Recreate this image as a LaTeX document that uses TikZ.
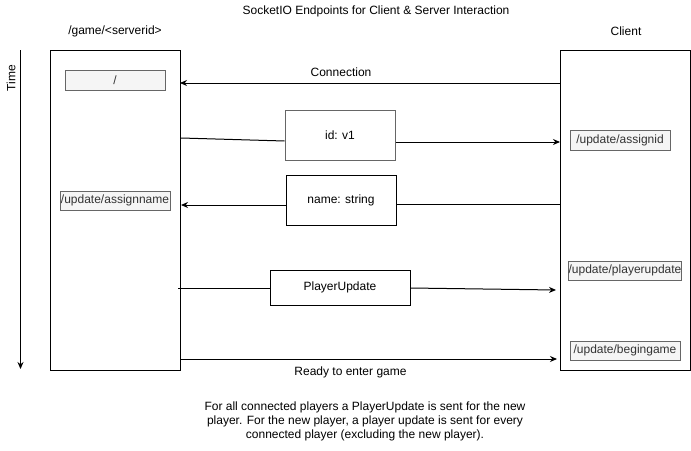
\documentclass[tikz,border=0pt]{standalone}
\usepackage{fontspec}
\setmainfont{Liberation Sans}
\usetikzlibrary{arrows.meta}
\definecolor{epfill}{HTML}{F5F5F5}
\definecolor{epline}{HTML}{666666}
\definecolor{eptext}{HTML}{333333}
\tikzset{
  lane/.style={draw,minimum width=130pt,minimum height=320pt},
  endpoint/.style={draw=epline,fill=epfill,text=eptext,inner xsep=0pt,inner ysep=1pt,minimum height=19pt},
  msg/.style={draw,minimum width=110pt,minimum height=50pt},
  arr/.style={-{Stealth[length=7pt,width=6pt]}}
}
\begin{document}
\begin{tikzpicture}[x=1pt,y=-1pt,font=\fontsize{12}{14}\selectfont,line width=1pt]
        \useasboundingbox (0,0) rectangle (691,450);
        \node (title) at (376,11){SocketIO Endpoints for Client \& Server Interaction};
        \node (servername) at (115,31){/game/<serverid>};
        \node (clientname) at (626,31){Client};
        \node[rotate=90] (time) at (11,78){Time};
        \coordinate (t0) at (20.5,50);
        \coordinate (t1) at (20.5,369);
        \draw[arr] (t0) to (t1);
        \node[lane] (server) at (115,210){};
        \node[lane] (client) at (625,210){};
        \node[endpoint,minimum width=100pt,minimum height=20pt] (root) at (115,80){/};
        \node[endpoint,minimum width=110pt] (assignname) at (115,200.5){/update/assignname};
        \node[endpoint,minimum width=100pt,minimum height=20pt] (assignid) at (620,140){/update/assignid};
        \node[endpoint,minimum width=110pt] (playerupdate) at (625,270.5){/update/playerupdate};
        \node[endpoint,minimum width=110pt] (begingame) at (625,350.5){/update/begingame};
        \node[msg,draw=epline] (idv1) at (340,135){id: v1};
        \node[msg] (namestr) at (341,200){name: string};
        \node[msg,minimum width=140pt,minimum height=35pt] (pupd) at (340,287.5){PlayerUpdate};
        \coordinate (connS) at (180,83);
        \coordinate (connC) at (560,83);
        \draw[arr] (connC) to node[above,xshift=-29pt,yshift=3pt]{Connection} (connS);
        \coordinate (idS) at (181,138);
        \coordinate (idC) at (560,142);
        \draw (idS) to ([yshift=-6pt]idv1.west);
        \draw[arr] ([yshift=-7pt]idv1.east) to (idC);
        \coordinate (nameS) at (181,205);
        \coordinate (nameC) at (560,204);
        \draw (nameC) to ([yshift=-4pt]namestr.east);
        \draw[arr] ([yshift=-5pt]namestr.west) to (nameS);
        \coordinate (puS) at (178,288);
        \coordinate (puC) at (556,290);
        \draw (puS) to ([yshift=-0.5pt]pupd.west);
        \draw[arr] ([yshift=-0.5pt]pupd.east) to (puC);
        \coordinate (readyS) at (180,359);
        \coordinate (readyC) at (557,359);
        \draw[arr] (readyS) to node[below,xshift=-18pt,yshift=-4pt]{Ready to enter game} (readyC);
        \node[align=center] (note) at (365,421){For all connected players a PlayerUpdate is sent for the new\\player. For the new player, a player update is sent for every\\connected player (excluding the new player).};
        \end{tikzpicture}
\end{document}
